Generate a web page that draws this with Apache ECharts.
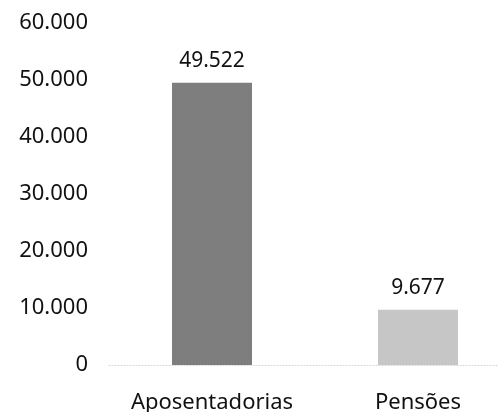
<!DOCTYPE html>
<html>
<head>
<meta charset="utf-8">
<script src="https://cdn.jsdelivr.net/npm/echarts@6/dist/echarts.min.js"></script>
<style>
  html, body { margin: 0; padding: 0; background: #ffffff; }
  #chart { width: 498px; height: 412px; }
</style>
</head>
<body>
<div id="chart"></div>
<script>
// Benefit counts by type
const categories = ['Aposentadorias', 'Pensões'];
const values = [49522, 9677];
const barColors = ['#7e7e7e', '#c6c6c6'];
const yTicks = [0, 10000, 20000, 30000, 40000, 50000, 60000];

// pt-BR style thousands separator
function fmt(v) {
  return String(v).replace(/\B(?=(\d{3})+(?!\d))/g, '.');
}

const FONT = '"Noto Sans", "Open Sans", sans-serif';
const chart = echarts.init(document.getElementById('chart'), null, { renderer: 'canvas' });

chart.setOption({
  backgroundColor: '#ffffff',
  animation: false,
  grid: {
    left: 109, width: 412, top: 23, bottom: 47,
    containLabel: false, outerBoundsMode: 'none'
  },
  xAxis: {
    type: 'category',
    data: categories,
    axisLine: { show: true, lineStyle: { color: '#d4d4d4', width: 1, type: [1, 2] } },
    axisTick: { show: false },
    axisLabel: { color: '#111', fontFamily: FONT, fontSize: 22, margin: 27, interval: 0 }
  },
  yAxis: {
    type: 'value',
    min: yTicks[0],
    max: yTicks[yTicks.length - 1],
    interval: yTicks[1] - yTicks[0],
    axisLine: { show: false },
    axisTick: { show: false },
    splitLine: { show: false },
    axisLabel: {
      color: '#111', fontFamily: FONT, fontSize: 22, margin: 21,
      formatter: fmt
    }
  },
  series: [{
    type: 'bar',
    data: values.map((v, i) => ({ value: v, itemStyle: { color: barColors[i] } })),
    barWidth: 80,
    label: {
      show: true,
      position: 'top',
      distance: 11,
      color: '#111',
      fontFamily: FONT,
      fontSize: 21,
      formatter: p => fmt(p.value)
    }
  }]
});
</script>
</body>
</html>
